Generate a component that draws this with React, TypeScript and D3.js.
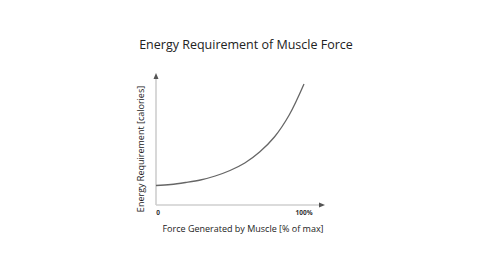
import React from "react";
import * as d3 from "d3";

const forcePct = [0, 10, 20, 30, 40, 50, 60, 70, 80, 90, 100];
const energy = [19.5, 20.5, 22.5, 25, 29, 34.5, 42, 53, 68, 90, 121];
const xTickLabels = ["0", "100%"];
const title = "Energy Requirement of Muscle Force";
const xTitle = "Force Generated by Muscle [% of max]";
const yTitle = "Energy Requirement [calories]";

export default function App() {
  const W = 480, H = 270;
  const x0 = 156, x1 = 304, yBase = 205, yTop = 75;
  const x = d3.scaleLinear().domain([0, 100]).range([x0, x1]);
  const y = d3.scaleLinear().domain([0, 130]).range([yBase, yTop]);
  const line = d3.line<number>().x((_, i) => x(forcePct[i])).y((d) => y(d)).curve(d3.curveCatmullRom);
  const font = "'Open Sans', sans-serif";
  return (
    <svg width={W} height={H} style={{ position: "absolute", left: 0, top: 0, background: "#fff" }}>
      <text x={246} y={49} textAnchor="middle" fontFamily={font} fontSize={12.5} fill="#222">{title}</text>
      <line x1={x0} y1={yBase} x2={x0} y2={78} stroke="#cfcfcf" strokeWidth={1.6} />
      <line x1={x0} y1={yBase} x2={320} y2={yBase} stroke="#cfcfcf" strokeWidth={1.6} />
      <path d={`M${x0 - 2.5},${79} L${x0 + 2.5},${79} L${x0},${73} Z`} fill="#555" />
      <path d={`M${319},${yBase - 2.5} L${319},${yBase + 2.5} L${325},${yBase} Z`} fill="#555" />
      <path d={line(energy) || ""} fill="none" stroke="#666" strokeWidth={1.3} />
      <text x={x(0) + 2} y={215} textAnchor="middle" fontFamily={font} fontSize={6.5} fontWeight="bold" fill="#333">{xTickLabels[0]}</text>
      <text x={x(100)} y={215} textAnchor="middle" fontFamily={font} fontSize={6.5} fontWeight="bold" fill="#333">{xTickLabels[1]}</text>
      <text x={243} y={232} textAnchor="middle" fontFamily={font} fontSize={9} fill="#222">{xTitle}</text>
      <text transform={`translate(144,149) rotate(-90)`} textAnchor="middle" fontFamily={font} fontSize={9} fill="#222">{yTitle}</text>
    </svg>
  );
}
